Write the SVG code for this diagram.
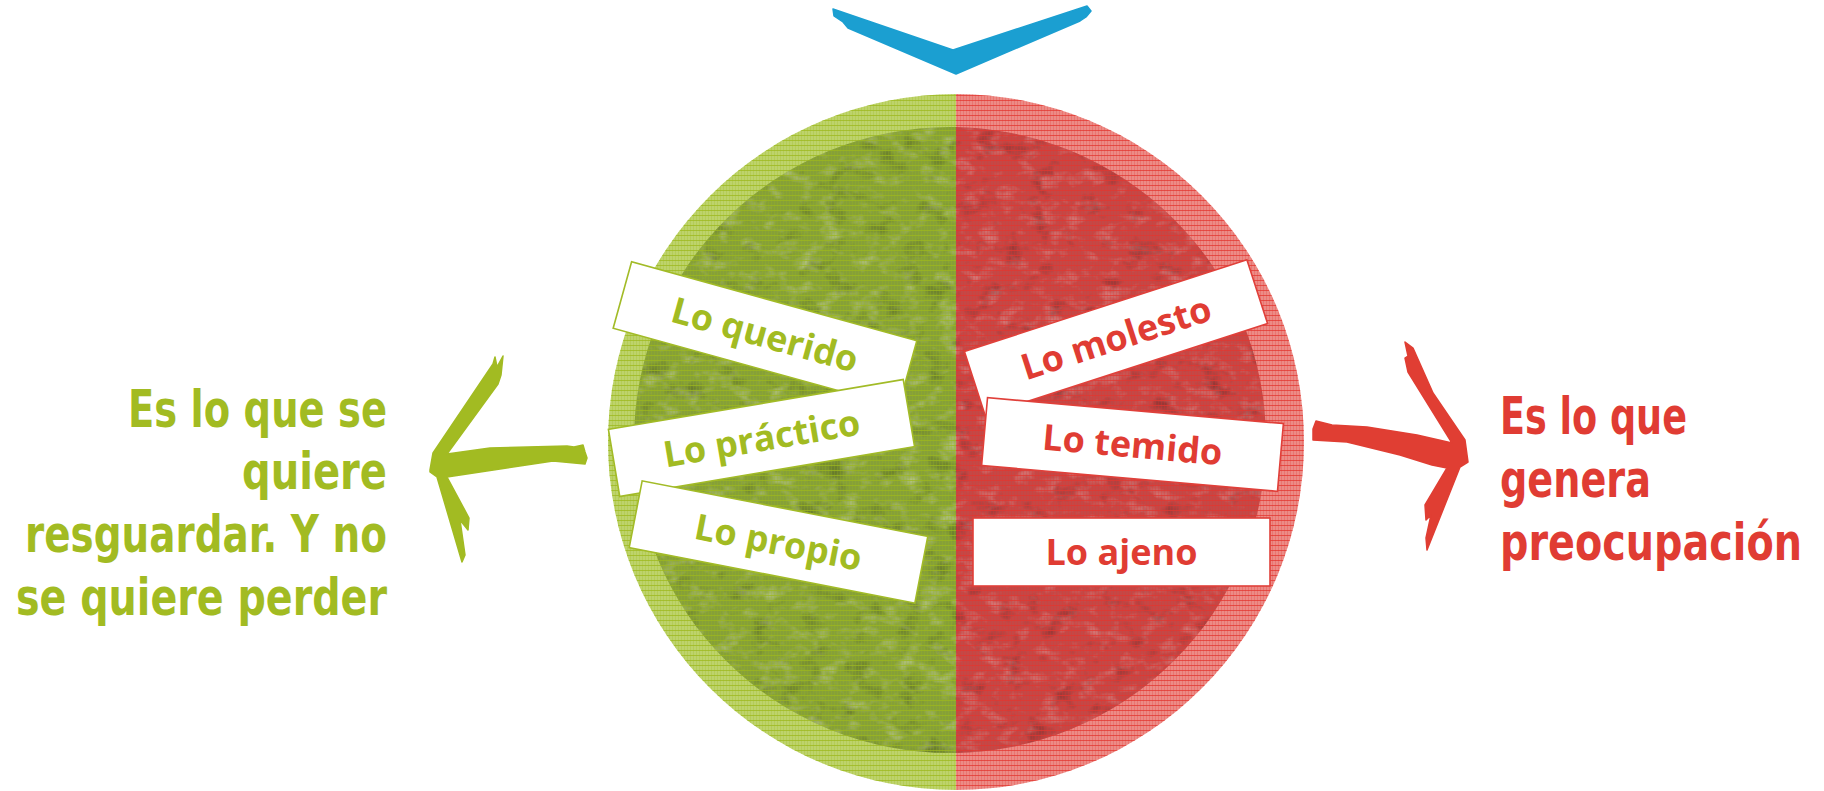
<svg xmlns="http://www.w3.org/2000/svg" width="1824" height="791" viewBox="0 0 1824 791">
<defs>
<style>
.box{fill:#fff;stroke-width:1.6}
.g .box{stroke:#a2bb27}
.r .box{stroke:#e0403a}
.lbl{font-family:"Open Sans","Lato","DejaVu Sans",sans-serif;font-weight:700;font-size:36px;text-anchor:middle}
.g .lbl{fill:#a2bb22}
.r .lbl{fill:#e03c33}
.side{font-family:"DejaVu Sans","Liberation Sans",sans-serif;font-weight:700;font-size:36px}
.arrow{stroke-linejoin:round;stroke-width:1.5}
</style>
<clipPath id="cl"><rect x="0" y="0" width="956" height="791"/></clipPath>
<clipPath id="cr"><rect x="956" y="0" width="868" height="791"/></clipPath>
<clipPath id="cin"><ellipse cx="950" cy="440" rx="316" ry="313"/></clipPath>
<pattern id="pg" width="3" height="5" patternUnits="userSpaceOnUse"><rect width="3" height="1" fill="#9cb81c" opacity=".75"/><rect width="1" height="5" fill="#9cb81c" opacity=".25"/></pattern>
<pattern id="pr" width="3" height="5" patternUnits="userSpaceOnUse"><rect width="3" height="1" fill="#e2352f" opacity=".75"/><rect width="1" height="5" fill="#e2352f" opacity=".25"/></pattern>
<filter id="nl" x="0" y="0" width="1" height="1">
<feTurbulence type="fractalNoise" baseFrequency="0.05 0.07" numOctaves="3" seed="7"/>
<feColorMatrix type="matrix" values="0 0 0 0 1  0 0 0 0 1  0 0 0 0 1  2.4 0 0 0 -1.2"/>
</filter>
<filter id="nd" x="0" y="0" width="1" height="1">
<feTurbulence type="fractalNoise" baseFrequency="0.04 0.05" numOctaves="3" seed="19"/>
<feColorMatrix type="matrix" values="0 0 0 0 0  0 0 0 0 0  0 0 0 0 0  -2.4 0 0 0 1.05"/>
</filter>
</defs>
<rect width="1824" height="791" fill="#fff"/>

<g id="circle">
<g clip-path="url(#cl)">
<circle cx="956" cy="442" r="348" fill="#bdd36b"/>
<ellipse cx="950" cy="440" rx="316" ry="313" fill="#86a038"/>
<g clip-path="url(#cin)">
<rect x="600" y="100" width="360" height="690" fill="#000" filter="url(#nl)" opacity=".35"/>
<rect x="600" y="100" width="360" height="690" fill="#000" filter="url(#nd)" opacity=".3"/>
</g>
<circle cx="956" cy="442" r="348" fill="url(#pg)"/>
</g>
<g clip-path="url(#cr)">
<circle cx="956" cy="442" r="348" fill="#ec8b86"/>
<ellipse cx="950" cy="440" rx="316" ry="313" fill="#c44846"/>
<g clip-path="url(#cin)">
<rect x="950" y="100" width="330" height="690" fill="#000" filter="url(#nl)" opacity=".3"/>
<rect x="950" y="100" width="330" height="690" fill="#000" filter="url(#nd)" opacity=".3"/>
</g>
<circle cx="956" cy="442" r="348" fill="url(#pr)"/>
</g>
</g>

<g id="connectors">
<path id="arrow-top" class="arrow" fill="#1b9fd1" stroke="#1b9fd1" stroke-width="3" d="M833,9 L953,50 L1087,6 L1091,11 L1086,17 L1080,21 L956,74 L848,28 L843,22 L834,16 Z"/>
<path id="arrow-left" class="arrow" fill="#a2bb22" stroke="#a2bb22" d="M430,470 L433,453 L493,364 L495,357 L497,367 L503,356 L501,375 L498,384 L447,454 L490,448 L567,446 L574,447 L583,445 L585,452 L587,458 L585,464 L553,461 L500,469 L447,477 L469,518 L468,530 L460,520 L465,555 L462,562 L437,477 L430,472 Z"/>
<path id="arrow-right" class="arrow" fill="#e03e33" stroke="#e03e33" d="M1313,429 L1316,421 L1332,425 L1367,427 L1417,435 L1452,443 L1408,372 L1405,358 L1408,356 L1405,342 L1413,348 L1433,393 L1465,440 L1468,462 L1460,467 L1427,550 L1426,538 L1431,515 L1426,520 L1425,505 L1447,468 L1432,465 L1400,455 L1347,442 L1313,440 Z"/>
</g>

<g id="box-querido" class="g" transform="translate(765,334.5) rotate(15.5)">
<rect class="box" x="-148" y="-34.5" width="296" height="69"/>
<text class="lbl" x="0" y="13">Lo querido</text>
</g>
<g id="box-practico" class="g" transform="translate(761.5,438) rotate(-9.6)">
<rect class="box" x="-149.5" y="-34" width="299" height="68"/>
<text class="lbl" x="0" y="13">Lo práctico</text>
</g>
<g id="box-propio" class="g" transform="translate(778.5,542) rotate(11)">
<rect class="box" x="-145.5" y="-34" width="291" height="68"/>
<text class="lbl" x="0" y="13">Lo propio</text>
</g>
<g id="box-molesto" class="r" transform="translate(1116,337.5) rotate(-18)">
<rect class="box" x="-148.5" y="-33.5" width="297" height="67"/>
<text class="lbl" x="0" y="13">Lo molesto</text>
</g>
<g id="box-temido" class="r" transform="translate(1132.5,444.5) rotate(5)">
<rect class="box" x="-148.5" y="-34" width="297" height="68"/>
<text class="lbl" x="0" y="13">Lo temido</text>
</g>
<g id="box-ajeno" class="r" transform="translate(1121.5,552)">
<rect class="box" x="-148.5" y="-34" width="297" height="68"/>
<text class="lbl" x="0" y="13">Lo ajeno</text>
</g>

<g id="text-left" class="side" fill="#a2bb22" text-anchor="end">
<text transform="translate(387,427) scale(1,1.42)" textLength="259" lengthAdjust="spacingAndGlyphs">Es lo que se</text>
<text transform="translate(387,489) scale(1,1.42)" textLength="145" lengthAdjust="spacingAndGlyphs">quiere</text>
<text transform="translate(387,552) scale(1,1.42)" textLength="362" lengthAdjust="spacingAndGlyphs">resguardar. Y no</text>
<text transform="translate(387,615) scale(1,1.42)" textLength="371" lengthAdjust="spacingAndGlyphs">se quiere perder</text>
</g>
<g id="text-right" class="side" fill="#e03c33">
<text transform="translate(1500,434) scale(1,1.42)" textLength="187" lengthAdjust="spacingAndGlyphs">Es lo que</text>
<text transform="translate(1500,497) scale(1,1.42)" textLength="151" lengthAdjust="spacingAndGlyphs">genera</text>
<text transform="translate(1500,560) scale(1,1.42)" textLength="302" lengthAdjust="spacingAndGlyphs">preocupación</text>
</g>
</svg>
